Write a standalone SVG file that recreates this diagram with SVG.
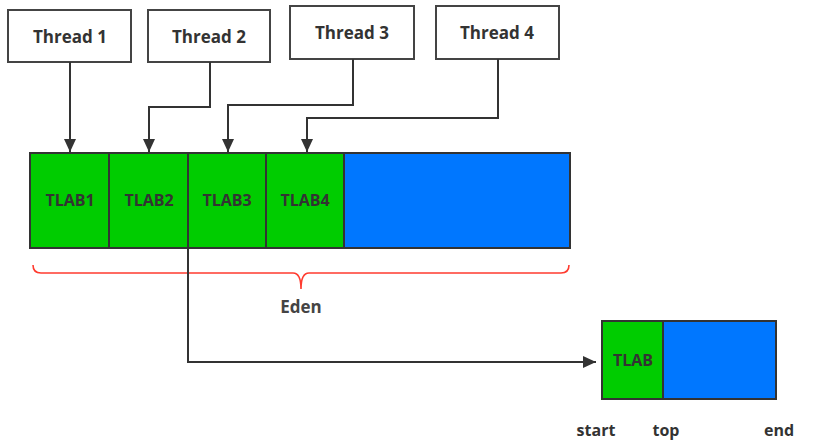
<svg xmlns="http://www.w3.org/2000/svg" width="831" height="446" viewBox="0 0 831 446">
<defs>
<marker id="ah" viewBox="0 0 13 12" refX="13" refY="6" markerWidth="13" markerHeight="12" markerUnits="userSpaceOnUse" orient="auto">
<path d="M0,0 L13,6 L0,12 z" fill="#333"/>
</marker>
<style>
.tb{fill:#fff;stroke:#444;stroke-width:2}
.g{fill:#00cc00;stroke:#333;stroke-width:2}
.b{fill:#0077ff;stroke:#333;stroke-width:2}
.t{font-family:"Open Sans","DejaVu Sans",sans-serif;font-weight:bold;fill:#333;text-anchor:middle}
.c{fill:none;stroke:#333;stroke-width:2}
</style>
</defs>
<rect width="831" height="446" fill="#fff"/>
<g id="thread1"><rect class="tb" x="8" y="10" width="123" height="52"/><text class="t" x="70" y="43" font-size="17">Thread 1</text></g>
<g id="thread2"><rect class="tb" x="148" y="10" width="122" height="52"/><text class="t" x="209" y="43" font-size="17">Thread 2</text></g>
<g id="thread3"><rect class="tb" x="290" y="6" width="124" height="53"/><text class="t" x="352" y="39" font-size="17">Thread 3</text></g>
<g id="thread4"><rect class="tb" x="436" y="6" width="123" height="53"/><text class="t" x="497" y="39" font-size="17">Thread 4</text></g>
<g id="eden">
<rect class="b" x="30" y="153" width="540" height="95"/>
<rect class="g" x="30" y="153" width="79" height="95"/>
<rect class="g" x="109" y="153" width="79" height="95"/>
<rect class="g" x="188" y="153" width="78" height="95"/>
<rect class="g" x="266" y="153" width="78" height="95"/>
<text class="t" x="70" y="206" font-size="16">TLAB1</text>
<text class="t" x="149" y="206" font-size="16">TLAB2</text>
<text class="t" x="227" y="206" font-size="16">TLAB3</text>
<text class="t" x="305" y="206" font-size="16">TLAB4</text>
</g>
<g id="brace">
<path d="M33,265 Q33,273 41,273 L293,273 Q301,273 301,289 Q301,273 309,273 L561,273 Q569,273 569,265" fill="none" stroke="#ff3b2f" stroke-width="1.6"/>
<text class="t" x="301" y="313" font-size="17" style="fill:#444">Eden</text>
</g>
<g id="tlab">
<rect class="b" x="602" y="321" width="174" height="78"/>
<rect class="g" x="602" y="321" width="61" height="78"/>
<text class="t" x="633" y="366" font-size="16">TLAB</text>
</g>
<g id="labels">
<text class="t" x="596" y="436" font-size="16">start</text>
<text class="t" x="666" y="436" font-size="16">top</text>
<text class="t" x="779" y="436" font-size="16">end</text>
</g>
<g id="connectors">
<path class="c" d="M70,62 L70,152" marker-end="url(#ah)"/>
<path class="c" d="M210,62 L210,107 L149,107 L149,152" marker-end="url(#ah)"/>
<path class="c" d="M353,59 L353,105 L228,105 L228,152" marker-end="url(#ah)"/>
<path class="c" d="M498,59 L498,118 L307,118 L307,152" marker-end="url(#ah)"/>
<path class="c" d="M188,153 L188,362 L596,362" marker-end="url(#ah)"/>
</g>
</svg>
